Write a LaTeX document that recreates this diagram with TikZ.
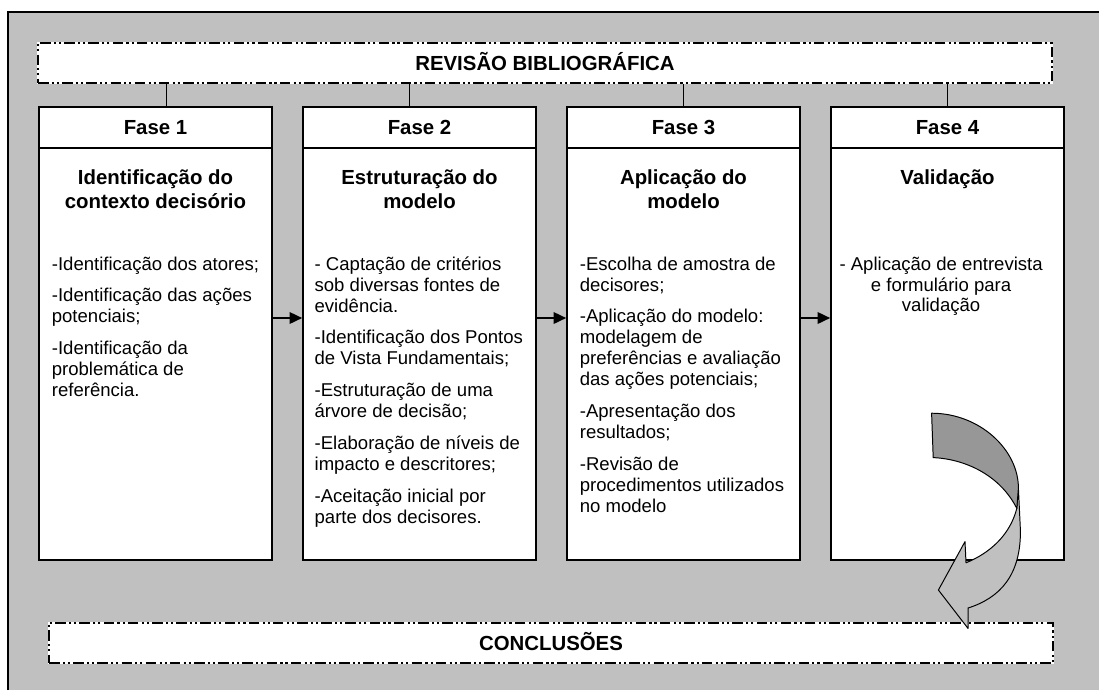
\documentclass[tikz,border=0pt]{standalone}
\usepackage{fontspec}
\setmainfont{Liberation Sans}
\usepackage{tikz}
\usetikzlibrary{positioning,arrows.meta}
\definecolor{framegray}{HTML}{C0C0C0}
\definecolor{arrowdark}{HTML}{979797}
\newcommand{\boldtext}{\bfseries\fontsize{14.5pt}{17pt}\selectfont}
\newcommand{\itemtext}{\fontsize{13.2pt}{14.9pt}\selectfont}
\tikzstyle{phase} = [rectangle, draw, fill=white, line width=0.9pt, minimum width=5.825cm, inner sep=0pt]
\tikzstyle{fase_head} = [phase, minimum height=1.025cm, font=\boldtext, text height=10.4pt, text depth=0pt]
\tikzstyle{fase_body} = [phase, minimum height=10.3cm]
\tikzstyle{title} = [align=center, inner sep=0pt, anchor=north, font=\boldtext]
\tikzstyle{items} = [align=left, inner sep=0pt, anchor=north west, font=\itemtext]
\tikzstyle{banner} = [rectangle, draw, fill=white, line width=1.7pt, dash pattern=on 7.5pt off 2.3pt on 1.5pt off 2.1pt on 1.5pt off 2.3pt, preaction={draw=white, solid, line width=1.7pt}, minimum height=1cm, inner sep=0pt, font=\boldtext, text height=10.4pt, text depth=0pt]
\tikzstyle{link} = [line width=0.7pt]
\tikzstyle{arrow} = [line width=2pt, ->, >={Triangle[length=0.32cm, width=0.28cm]}]

\begin{document}
\begin{tikzpicture}
    \useasboundingbox (0,0) rectangle (27.475,-17.25);
    \fill[framegray] (0.2,-0.3) rectangle (27.475,-17.25);
    \draw[line width=0.9pt] (0.2,-17.25) |- (27.475,-0.3);

    \node (revisao) [banner, minimum width=25.35cm] at (13.625,-1.575) {REVISÃO BIBLIOGRÁFICA};

    \node (head1) [fase_head] at (3.8875,-3.1875) {Fase 1};
    \node (head2) [fase_head, right of=head1, node distance=6.6cm] {Fase 2};
    \node (head3) [fase_head, right of=head2, node distance=6.6cm] {Fase 3};
    \node (head4) [fase_head, right of=head3, node distance=6.6cm] {Fase 4};

    \node (body1) [fase_body, below of=head1, node distance=5.6625cm] {};
    \node (body2) [fase_body, below of=head2, node distance=5.6625cm] {};
    \node (body3) [fase_body, below of=head3, node distance=5.6625cm] {};
    \node (body4) [fase_body, below of=head4, node distance=5.6625cm] {};

    \node (title1) [title, at={(body1.north)}, yshift=-0.55cm] {Identificação do\\contexto decisório};
    \node (title2) [title, at={(body2.north)}, yshift=-0.55cm] {Estruturação do\\modelo};
    \node (title3) [title, at={(body3.north)}, yshift=-0.55cm] {Aplicação do\\modelo};
    \node (title4) [title, at={(body4.north)}, yshift=-0.55cm] {Validação};

    \node (items1) [items, at={(body1.north west)}, shift={(0.33cm,-2.725cm)}] {-Identificação dos atores;\\[7.7pt]-Identificação das ações\\potenciais;\\[7.7pt]-Identificação da\\problemática de\\referência.};
    \node (items2) [items, at={(body2.north west)}, shift={(0.3cm,-2.725cm)}] {- Captação de critérios\\sob diversas fontes de\\evidência.\\[7.7pt]-Identificação dos Pontos\\de Vista Fundamentais;\\[7.7pt]-Estruturação de uma\\árvore de decisão;\\[7.7pt]-Elaboração de níveis de\\impacto e descritores;\\[7.7pt]-Aceitação inicial por\\parte dos decisores.};
    \node (items3) [items, at={(body3.north west)}, shift={(0.33cm,-2.725cm)}] {-Escolha de amostra de\\decisores;\\[7.7pt]-Aplicação do modelo:\\modelagem de\\preferências e avaliação\\das ações potenciais;\\[7.7pt]-Apresentação dos\\resultados;\\[7.7pt]-Revisão de\\procedimentos utilizados\\no modelo};
    \node (items4) [items, anchor=north, align=center, at={(body4.north)}, shift={(-0.16cm,-2.725cm)}] {- Aplicação de entrevista\\e formulário para\\validação};

    \coordinate (link1) at ([xshift=0.2625cm]head1.north);
    \coordinate (link2) at ([xshift=-0.2625cm]head2.north);
    \draw [link] (link1) -- (link1 |- revisao.south);
    \draw [link] (link2) -- (link2 |- revisao.south);
    \draw [link] (head3.north) -- (head3.north |- revisao.south);
    \draw [link] (head4.north) -- (head4.north |- revisao.south);

    \draw [arrow] ([yshift=0.9cm]body1.east) -- ([yshift=0.9cm]body2.west);
    \draw [arrow] ([yshift=0.9cm]body2.east) -- ([yshift=0.9cm]body3.west);
    \draw [arrow] ([yshift=0.9cm]body3.east) -- ([yshift=0.9cm]body4.west);

    \node (conclusoes) [banner, minimum width=25.1cm] at (13.775,-16.075) {CONCLUSÕES};

    \filldraw[fill=framegray, line width=0.7pt, line join=round] (25.46,-12.2) -- (25.51,-13.25) .. controls (25.525,-14.375) and (25.0,-14.95) .. (24.2,-15.2) -- (24.2,-15.71) -- (23.46,-14.75) -- (24.125,-13.54) -- (24.15,-14.07) .. controls (24.75,-13.825) and (25.25,-13.375) .. (25.42,-12.71) -- cycle;
    \filldraw[fill=arrowdark, line width=0.7pt, line join=round] (23.29,-10.33) .. controls (24.49,-10.33) and (25.46,-11.24) .. (25.46,-12.2) -- (25.42,-12.71) .. controls (25.0,-11.875) and (24.125,-11.475) .. (23.33,-11.44) -- cycle;
\end{tikzpicture}
\end{document}
